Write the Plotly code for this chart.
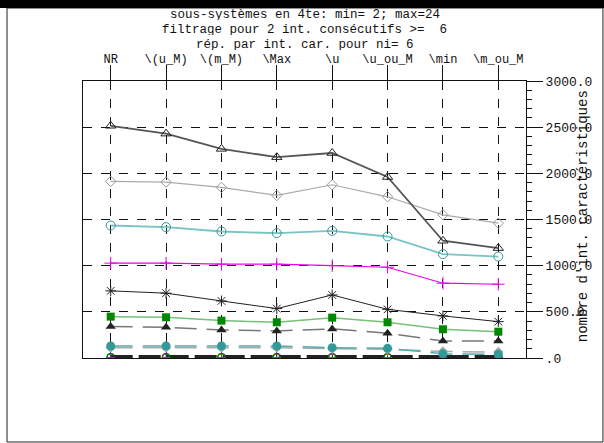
import plotly.graph_objects as go

categories = ["NR", "\\(u_M)", "\\(m_M)", "\\Max", "\\u", "\\u_ou_M", "\\min", "\\m_ou_M"]

s_tri_open = [2515, 2430, 2265, 2175, 2220, 1960, 1270, 1190]
s_diamond = [1913, 1905, 1848, 1761, 1876, 1746, 1551, 1461]
s_circle_open = [1435, 1417, 1370, 1352, 1377, 1316, 1125, 1099]
s_plus = [1027, 1027, 1016, 1016, 1001, 983, 810, 799]
s_star = [727, 702, 618, 535, 683, 527, 456, 394]
s_square = [448, 441, 405, 387, 437, 387, 311, 285]
s_tri_fill = [340, 333, 304, 293, 315, 268, 184, 184]
s_teal_fill = [130, 130, 130, 130, 112, 105, 45, 40]
s_gray_fill = [112, 112, 112, 112, 100, 95, 70, 65]
s_zero_black = [8, 8, 8, 8, 8, 8, 8, 8]
s_zero_magenta = [5, 5, 5, 5, 5, 5, 5, 5]
s_zero_green = [6, 6, 6, 6, 6, 6, 6, 6]
s_zero_tri = [None, None, None, None, None, None, 2, 2]

yticks = [0, 500, 1000, 1500, 2000, 2500, 3000]
yticklabels = [".0", "500.0", "1000.0", "1500.0", "2000.0", "2500.0", "3000.0"]

title_lines = [
    "sous-systèmes en 4te: min= 2; max=24",
    "filtrage pour 2 int. consécutifs >=  6",
    "rép. par int. car. pour ni= 6",
]
ytitle = "nombre d'int. caractéristiques"

FONT = "Liberation Mono, Courier New, monospace"

fig = go.Figure()

def add(y, line_color, width, dash, symbol, mcolor, msize):
    fig.add_trace(go.Scatter(
        x=categories, y=y, mode="lines+markers",
        line=dict(color=line_color, width=width, dash=dash),
        marker=dict(symbol=symbol, size=msize, color=mcolor),
        showlegend=False, connectgaps=False))

add(s_zero_black, "#222222", 4.5, "22px,6px", "circle-open", "#222222", 8)
add(s_zero_green, "rgba(0,0,0,0)", 1, "solid", "circle-open", "#008800", 7)
add(s_zero_magenta, "rgba(0,0,0,0)", 1, "solid", "cross-thin-open", "#dd00dd", 6)
add(s_zero_tri, "rgba(0,0,0,0)", 1, "solid", "triangle-up-open", "#222222", 8)
add(s_gray_fill, "#aaaaaa", 1.5, "22px,10px", "diamond", "#aaaaaa", 8)
add(s_teal_fill, "#55aaaa", 1.5, "22px,10px", "circle", "#339999", 9)
add(s_tri_fill, "#777777", 1.5, "22px,10px", "triangle-up", "#222222", 9)
add(s_square, "#77c077", 1.5, "solid", "square", "#008800", 8)
add(s_star, "#222222", 1, "solid", "asterisk-open", "#222222", 9)
add(s_plus, "#ee00ee", 1.2, "solid", "cross-thin-open", "#ee00ee", 9)
add(s_circle_open, "#77c4c4", 1.8, "solid", "circle-open", "#339999", 9)
add(s_diamond, "#aaaaaa", 1.2, "solid", "diamond-open", "#999999", 8)
add(s_tri_open, "#555555", 1.8, "solid", "triangle-up-open", "#222222", 9)

fig.update_layout(
    width=604, height=443,
    margin=dict(l=83, r=72, t=81, b=85),
    paper_bgcolor="white", plot_bgcolor="white",
    font=dict(family=FONT, size=12, color="#111111"),
    xaxis=dict(
        type="category", categoryorder="array", categoryarray=categories,
        range=[-0.5, 7.5], side="top",
        ticks="outside", ticklen=15, tickcolor="#111111", tickwidth=1,
        ticklabelstandoff=-3,
        showgrid=True, gridcolor="#111111", griddash="dash", gridwidth=1,
        showline=True, linecolor="#111111", linewidth=1, mirror=True,
        tickfont=dict(family=FONT, size=12, color="#111111"),
        zeroline=False,
    ),
    yaxis=dict(
        side="right", range=[0, 3000],
        tickvals=yticks, ticktext=yticklabels,
        ticks="outside", ticklen=16, tickcolor="#111111", tickwidth=1,
        minor=dict(dtick=100, ticks="outside", ticklen=5, tickcolor="#111111", showgrid=False),
        showgrid=True, gridcolor="#111111", griddash="dash", gridwidth=1,
        showline=True, linecolor="#111111", linewidth=1, mirror=True,
        tickfont=dict(family=FONT, size=13, color="#111111"),
        zeroline=False,
    ),
)

# Title lines
for line, py in zip(title_lines, [15, 29.5, 44]):
    fig.add_annotation(text=line, xref="paper", yref="paper",
                       x=0.5, y=(358 - py) / 277, xanchor="center", yanchor="middle",
                       showarrow=False, height=11, borderpad=0,
                       font=dict(family=FONT, size=12.5, color="#111111"))

# Right axis title
fig.add_annotation(text=ytitle, xref="paper", yref="paper",
                   x=(590 - 83) / 449, y=(358 - 216) / 277, textangle=-90,
                   xanchor="center", yanchor="middle", showarrow=False,
                   font=dict(family=FONT, size=14, color="#111111"))

# Outer frame and top black bar
fig.add_shape(type="rect", xref="paper", yref="paper",
              x0=(6 - 83) / 449, x1=(610 - 83) / 449,
              y0=(358 - 442) / 277, y1=(358 - 8) / 277,
              line=dict(color="#222222", width=1), fillcolor="rgba(0,0,0,0)", layer="below")
fig.add_shape(type="rect", xref="paper", yref="paper",
              x0=(-10 - 83) / 449, x1=(620 - 83) / 449,
              y0=(358 - 8) / 277, y1=(358 + 10) / 277,
              line=dict(width=0), fillcolor="#000000", layer="above")

fig.write_html("out.html", config={"displayModeBar": False},
               post_script="document.body.style.margin='0';")
